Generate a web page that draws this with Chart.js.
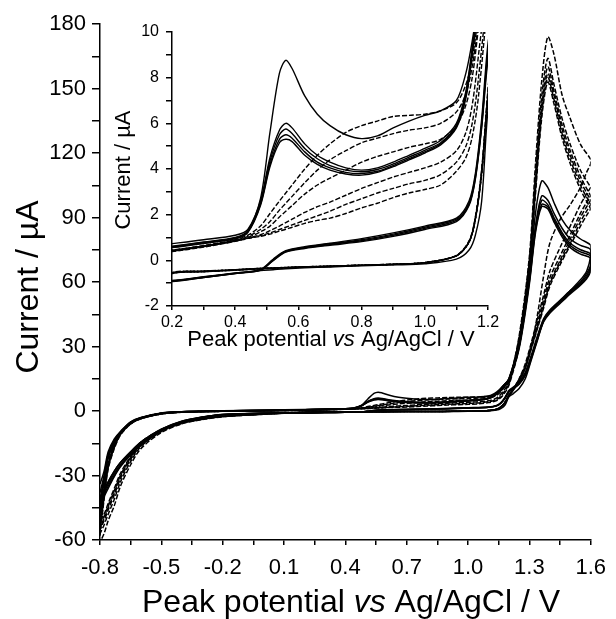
<!DOCTYPE html>
<html>
<head>
<meta charset="utf-8">
<script src="https://cdn.jsdelivr.net/npm/chart.js@4.4.1/dist/chart.umd.min.js"></script>
<style>
  html, body { margin: 0; padding: 0; background: #fff; }
  #wrap { position: relative; width: 616px; height: 619px; }
  #main { position: absolute; left: 0; top: 0; }
  #inset { position: absolute; left: 110px; top: 15px; }
</style>
</head>
<body>
<div id="wrap">
  <canvas id="main" width="616" height="619"></canvas>
  <canvas id="inset" width="400" height="345"></canvas>
</div>
<script>
"use strict";

// potential grid (V vs Ag/AgCl), forward sweep then reverse sweep
var potentialFwd = [-0.8, -0.78, -0.76, -0.73, -0.7, -0.65, -0.6, -0.5, -0.4, -0.2, 0, 0.2, 0.3, 0.4, 0.44,
    0.48, 0.51, 0.54, 0.56, 0.58, 0.62, 0.66, 0.7, 0.75, 0.8, 0.85, 0.9, 0.95, 1.0, 1.05, 1.1, 1.13, 1.15,
    1.17, 1.2, 1.25, 1.3, 1.33, 1.36, 1.39, 1.42, 1.46, 1.5, 1.55, 1.6];
var potentialRev = [1.6, 1.58, 1.55, 1.5, 1.45, 1.4, 1.37, 1.34, 1.31, 1.28, 1.25, 1.22, 1.2, 1.18, 1.16, 1.14,
    1.1, 1.0, 0.9, 0.8, 0.7, 0.62, 0.56, 0.52, 0.48, 0.4, 0.3, 0.2, 0, -0.2, -0.3, -0.4, -0.5, -0.6, -0.65,
    -0.7, -0.73, -0.76, -0.78, -0.8];

// solid curves (current, uA)
var solid1Fwd = [-34, -28, -19, -13, -9.5, -5, -3, -0.9, -0.3, 0.1, 0.4, 0.73, 0.9, 1.1, 1.35, 2.7, 5.6, 8.2, 8.76,
    8.4, 7.2, 6.4, 5.9, 5.5, 5.33, 5.45, 5.8, 6.1, 6.35, 6.55, 7.0, 8.2, 9.6, 11.5, 15, 33, 64, 92, 107, 104, 97,
    89, 84, 80, 77];
var solid1Rev = [72, 65, 61, 56, 51, 46, 42, 33, 24, 15, 10.5, 8, 6.6, 2.6, 1.1, 0.45, 0.05, -0.15, -0.2, -0.24,
    -0.29, -0.33, -0.37, -0.41, -0.45, -0.58, -0.75, -0.93, -1.0, -1.6, -2.8, -4.8, -8.5, -14.5, -19, -24, -28,
    -33, -37, -42];
var solid2Fwd = [-38, -30, -20, -13.5, -9.8, -5.2, -3.1, -1.0, -0.3, 0.05, 0.3, 0.62, 0.8, 1.0, 1.3, 2.6, 4.5, 5.7,
    6.0, 5.8, 5.1, 4.6, 4.3, 4.05, 3.95, 4.05, 4.3, 4.6, 4.9, 5.25, 6.0, 7.4, 9.3, 11.5, 15, 31, 62, 86, 100, 98,
    92, 85, 80, 77, 75];
var solid2Rev = [68, 64, 60, 56, 51.5, 47, 43, 35, 26, 18, 13.5, 11, 9.5, 6.2, 3.8, 2.6, 1.85, 1.5, 1.2, 0.95,
    0.75, 0.6, 0.42, 0.05, -0.4, -0.55, -0.72, -0.88, -1.0, -1.6, -2.8, -4.8, -8.5, -14.5, -19, -24, -28, -33,
    -37, -41];
var solid3Fwd = [-41, -31, -21, -14, -10, -5.3, -3.1, -1.0, -0.35, 0.05, 0.3, 0.6, 0.78, 0.98, 1.27, 2.5, 4.35,
    5.5, 5.75, 5.55, 4.9, 4.45, 4.15, 3.95, 3.88, 3.98, 4.22, 4.52, 4.82, 5.15, 5.9, 7.3, 9.2, 11.4, 14.8, 30, 61,
    85, 98, 96, 90, 83, 78, 75, 73];
var solid3Rev = [67, 63, 59.5, 55.5, 51, 46.5, 42.5, 34.5, 25.5, 17.5, 13, 10.7, 9.2, 6.0, 3.7, 2.5, 1.8, 1.45,
    1.15, 0.9, 0.72, 0.57, 0.4, 0.03, -0.42, -0.56, -0.73, -0.89, -1.0, -1.65, -2.9, -5.0, -8.8, -15, -19.5, -25,
    -29, -34, -38, -43];
var solid4Fwd = [-44, -32, -21, -14.5, -10.3, -5.4, -3.2, -1.1, -0.35, 0.05, 0.28, 0.58, 0.76, 0.96, 1.25, 2.45,
    4.2, 5.3, 5.5, 5.35, 4.75, 4.3, 4.05, 3.85, 3.8, 3.9, 4.15, 4.45, 4.75, 5.1, 5.85, 7.2, 9.1, 11.3, 14.6, 30,
    60, 84, 96, 95, 89, 82, 77, 74, 72];
var solid4Rev = [66, 62, 59, 55, 50.5, 46, 42, 34, 25, 17, 12.7, 10.4, 9.0, 5.9, 3.6, 2.45, 1.75, 1.4, 1.1, 0.86,
    0.69, 0.55, 0.38, 0.0, -0.43, -0.57, -0.74, -0.9, -1.05, -1.7, -3.0, -5.2, -9.0, -15.5, -20, -25.5, -30, -35,
    -39, -45];
var solid5Fwd = [-46, -33, -22, -15, -10.5, -5.5, -3.3, -1.1, -0.4, 0.0, 0.26, 0.56, 0.74, 0.94, 1.22, 2.4, 4.1,
    5.15, 5.3, 5.2, 4.6, 4.2, 3.95, 3.78, 3.73, 3.85, 4.1, 4.4, 4.7, 5.05, 5.8, 7.1, 9.0, 11.2, 14.4, 29, 59, 83,
    95, 94, 88, 81, 76, 73, 71];
var solid5Rev = [65, 61.5, 58.5, 54.5, 50, 45.5, 41.5, 33.5, 24.5, 16.5, 12.4, 10.2, 8.8, 5.8, 3.55, 2.4, 1.7,
    1.35, 1.05, 0.82, 0.66, 0.52, 0.36, -0.02, -0.44, -0.58, -0.75, -0.91, -1.05, -1.75, -3.1, -5.4, -9.3, -16,
    -20.5, -26, -30.5, -36, -40, -46];

// dashed curves (current, uA)
var dashed1Fwd = [-48, -36, -24, -15, -10, -5.5, -3.3, -1.2, -0.5, -0.1, 0.1, 0.44, 0.65, 0.9, 1.1, 1.5, 2.05,
    2.6, 2.95, 3.3, 4.0, 4.6, 5.1, 5.6, 5.9, 6.1, 6.3, 6.35, 6.4, 6.55, 6.9, 7.7, 8.8, 10.8, 14, 35, 72, 115,
    153, 174, 166, 147, 136, 124, 117];
var dashed1Rev = [115, 111, 104, 96, 89, 78, 63, 45, 30, 20, 14, 9.5, 7, 3.8, 1.8, 0.8, 0.2, -0.1, -0.18, -0.22,
    -0.27, -0.3, -0.33, -0.35, -0.37, -0.43, -0.5, -0.58, -1.5, -2.7, -4, -6, -10, -17.5, -25, -35, -44, -51,
    -57, -61];
var dashed2Fwd = [-50, -37, -25, -15.5, -10.2, -5.6, -3.4, -1.2, -0.5, -0.1, 0.1, 0.45, 0.63, 0.88, 1.05, 1.35,
    1.7, 2.2, 2.5, 2.8, 3.4, 3.95, 4.4, 4.8, 5.15, 5.35, 5.55, 5.7, 5.8, 6.0, 6.5, 7.3, 8.5, 10.5, 14, 34, 70,
    110, 146, 164, 152, 136, 124, 112, 104];
var dashed2Rev = [104, 101, 96, 86, 76, 65, 54, 43, 32, 22, 15, 10, 7.5, 4.0, 1.9, 0.85, 0.22, -0.1, -0.18, -0.22,
    -0.27, -0.3, -0.33, -0.35, -0.37, -0.43, -0.5, -0.58, -1.5, -2.6, -3.9, -5.8, -9.6, -16.5, -23.5, -33, -41,
    -48, -53, -57];
var dashed3Fwd = [-52, -38, -25, -16, -10.5, -5.7, -3.4, -1.3, -0.5, -0.1, 0.1, 0.42, 0.62, 0.86, 1.0, 1.25, 1.5,
    1.9, 2.15, 2.4, 2.9, 3.3, 3.6, 3.95, 4.3, 4.55, 4.75, 4.95, 5.1, 5.3, 5.9, 6.8, 8.0, 10.2, 13.5, 33, 69, 107,
    142, 160, 149, 133, 121, 109, 100];
var dashed3Rev = [100, 97, 92, 82, 72, 62, 52, 41, 31, 21, 15, 10, 7.4, 3.9, 1.85, 0.82, 0.2, -0.1, -0.18, -0.22,
    -0.26, -0.29, -0.32, -0.34, -0.36, -0.42, -0.49, -0.56, -1.45, -2.55, -3.8, -5.6, -9.3, -16, -22.5, -31.5,
    -39, -46, -51, -55];
var dashed4Fwd = [-54, -39, -26, -16.5, -10.7, -5.8, -3.5, -1.3, -0.55, -0.15, 0.08, 0.4, 0.6, 0.85, 0.98, 1.12,
    1.3, 1.5, 1.65, 1.8, 2.1, 2.35, 2.55, 2.85, 3.15, 3.4, 3.65, 3.85, 4.05, 4.3, 4.8, 5.6, 6.8, 9.0, 13, 32, 68,
    105, 140, 157, 147, 131, 119, 107, 98];
var dashed4Rev = [98, 95, 90, 80, 70, 60, 50, 40, 30, 20.5, 14.5, 9.8, 7.3, 3.9, 1.85, 0.82, 0.2, -0.1, -0.17,
    -0.21, -0.26, -0.29, -0.32, -0.34, -0.36, -0.42, -0.48, -0.55, -1.45, -2.5, -3.7, -5.5, -9.1, -15.5, -22,
    -30.5, -38, -45, -50, -54];
var dashed5Fwd = [-56, -40, -26, -17, -11, -6, -3.6, -1.4, -0.6, -0.15, 0.08, 0.4, 0.6, 0.84, 0.97, 1.08, 1.2,
    1.35, 1.45, 1.55, 1.75, 1.95, 2.15, 2.45, 2.7, 2.95, 3.15, 3.35, 3.5, 3.75, 4.3, 5.0, 6.0, 8.0, 12.5, 31, 67,
    103, 138, 155, 145, 129, 117, 105, 96];
var dashed5Rev = [96, 93, 88, 78, 69, 59, 49, 39, 29.5, 20, 14, 9.6, 7.2, 3.85, 1.8, 0.8, 0.2, -0.1, -0.17, -0.21,
    -0.25, -0.28, -0.31, -0.33, -0.35, -0.41, -0.47, -0.54, -1.4, -2.45, -3.6, -5.4, -8.9, -15, -21.5, -30, -37,
    -44, -49, -52];
var dashed6Fwd = [-58, -41, -27, -17.5, -11.2, -6.1, -3.6, -1.4, -0.6, -0.15, 0.06, 0.38, 0.58, 0.83, 0.96, 1.05,
    1.15, 1.28, 1.36, 1.45, 1.62, 1.75, 1.85, 2.05, 2.3, 2.5, 2.75, 2.95, 3.1, 3.3, 3.9, 4.5, 5.4, 7.2, 12, 30, 66,
    101, 136, 153, 143, 127, 115, 103, 94];
var dashed6Rev = [94, 91, 86, 77, 68, 58, 48, 38.5, 29, 20, 14, 9.5, 7.1, 3.8, 1.8, 0.8, 0.2, -0.1, -0.17, -0.21,
    -0.25, -0.28, -0.31, -0.33, -0.35, -0.41, -0.47, -0.53, -1.4, -2.4, -3.5, -5.3, -8.7, -14.5, -21, -29, -36,
    -43, -48, -51];

var solidCycles = [[solid1Fwd, solid1Rev], [solid2Fwd, solid2Rev], [solid3Fwd, solid3Rev],
    [solid4Fwd, solid4Rev], [solid5Fwd, solid5Rev]];
var dashedCycles = [[dashed1Fwd, dashed1Rev], [dashed2Fwd, dashed2Rev], [dashed3Fwd, dashed3Rev],
    [dashed4Fwd, dashed4Rev], [dashed5Fwd, dashed5Rev], [dashed6Fwd, dashed6Rev]];

var FONT = "'Liberation Sans', Arial, Helvetica, sans-serif";

function cyclePoints(fwd, rev) {
    var pts = [];
    potentialFwd.forEach(function (e, i) { pts.push({x: e, y: fwd[i]}); });
    potentialRev.forEach(function (e, i) { pts.push({x: e, y: rev[i]}); });
    return pts;
}

function makeDatasets(width) {
    var sets = [];
    solidCycles.forEach(function (c) {
        sets.push({data: cyclePoints(c[0], c[1]), borderColor: '#000', borderWidth: width,
            pointRadius: 0, tension: 0.3, showLine: true, fill: false});
    });
    dashedCycles.forEach(function (c) {
        sets.push({data: cyclePoints(c[0], c[1]), borderColor: '#000', borderWidth: width,
            borderDash: [5, 2], pointRadius: 0, tension: 0.3, showLine: true, fill: false});
    });
    return sets;
}

// axis titles drawn by hand so that "vs" can be italic
var axisTitles = {
    id: 'axisTitles',
    afterDraw: function (chart, args, opts) {
        var ctx = chart.ctx;
        ctx.save();
        ctx.fillStyle = '#000';
        ctx.textBaseline = 'middle';
        ctx.textAlign = 'left';
        var parts = [['Peak potential ', ''], ['vs', 'italic '], [' Ag/AgCl / V', '']];
        var total = 0;
        parts.forEach(function (p) {
            ctx.font = p[1] + opts.size + 'px ' + FONT;
            total += ctx.measureText(p[0]).width;
        });
        var x = opts.xTitle[0] - total / 2;
        parts.forEach(function (p) {
            ctx.font = p[1] + opts.size + 'px ' + FONT;
            ctx.fillText(p[0], x, opts.xTitle[1]);
            x += ctx.measureText(p[0]).width;
        });
        ctx.font = opts.size + 'px ' + FONT;
        ctx.translate(opts.yTitle[0], opts.yTitle[1]);
        ctx.rotate(-Math.PI / 2);
        ctx.textAlign = 'center';
        ctx.fillText('Current / \u00b5A', 0, 0);
        ctx.restore();
    }
};

function axis(min, max, step, labelEvery, tickLen, fontSize, pad, fit) {
    return {
        type: 'linear', min: min, max: max,
        border: {display: true, color: '#000', width: 1.5},
        grid: {display: true, drawOnChartArea: false, drawTicks: true, tickLength: tickLen,
            color: '#000', lineWidth: 1.5},
        ticks: {
            stepSize: step, autoSkip: false, maxRotation: 0, minRotation: 0, padding: pad,
            color: '#000', font: {family: FONT, size: fontSize},
            callback: function (value) {
                var k = (value - min) / labelEvery;
                if (Math.abs(k - Math.round(k)) > 1e-6) return '';
                return labelEvery < 1 ? value.toFixed(1) : String(Math.round(value));
            }
        },
        afterFit: fit
    };
}

Chart.defaults.animation = false;

new Chart(document.getElementById('main'), {
    type: 'scatter',
    data: {datasets: makeDatasets(1.5)},
    options: {
        responsive: false,
        devicePixelRatio: 1,
        layout: {padding: {top: 24, right: 19, left: 0, bottom: 0}},
        plugins: {
            legend: {display: false}, tooltip: {enabled: false},
            axisTitles: {size: 32, xTitle: [351, 603], yTitle: [29, 287]}
        },
        scales: {
            x: axis(-0.8, 1.6, 0.15, 0.3, 5, 22, 10, function (s) { s.height = 79; }),
            y: axis(-60, 180, 15, 30, 8, 22, 6, function (s) { s.width = 100; })
        }
    },
    plugins: [axisTitles]
});

new Chart(document.getElementById('inset'), {
    type: 'scatter',
    data: {datasets: makeDatasets(1.4)},
    options: {
        responsive: false,
        devicePixelRatio: 1,
        layout: {padding: {top: 17, right: 22, left: 0, bottom: 0}},
        plugins: {
            legend: {display: false}, tooltip: {enabled: false},
            axisTitles: {size: 22, xTitle: [221, 325], yTitle: [14, 155]}
        },
        scales: {
            x: axis(0.2, 1.2, 0.1, 0.2, 4, 16, 3, function (s) { s.height = 54; }),
            y: axis(-2, 10, 1, 2, 6, 16, 7, function (s) { s.width = 62; })
        }
    },
    plugins: [axisTitles]
});
</script>
</body>
</html>
